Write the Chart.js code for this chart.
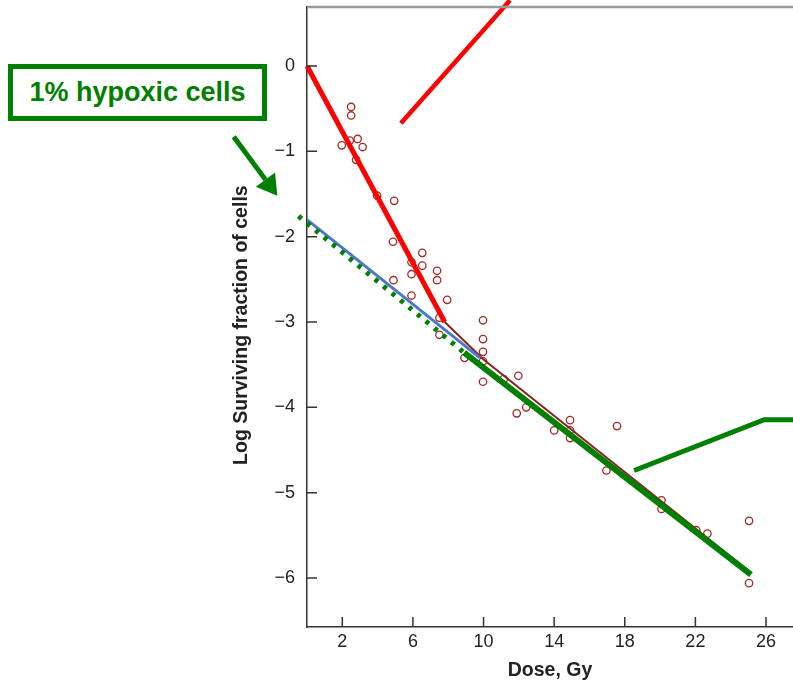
<!DOCTYPE html>
<html>
<head>
    <meta charset="utf-8" />
    <style>
        body { margin: 0; background: #fff; }
        #wrap { position: relative; width: 793px; height: 682px; }
        .etiqueta {
            position: absolute; left: 8px; top: 64px; width: 249px; height: 47px;
            border: 5px solid #008000; color: #008000; background: #fff;
            font: bold 27px "Liberation Sans", Arial, sans-serif;
            display: flex; align-items: center; justify-content: center;
        }
    </style>
</head>
<body>
    <div id="wrap">
        <canvas id="chart" width="793" height="682"></canvas>
        <div class="etiqueta">1% hypoxic cells</div>
    </div>

    <script src="https://cdn.jsdelivr.net/npm/chart.js"></script>
    <script type="text/javascript">
        // Puntos observados (dosis, log fraccion superviviente)
        var dosisObs = [2.5, 2.5, 2.87, 1.97, 3.15, 2.42, 2.78, 3.97, 4.94, 4.87, 6.53, 5.92, 6.53, 7.37, 5.92,
            4.9, 7.37, 5.92, 7.94, 7.5, 7.5, 9.97, 9.97, 9.97, 9.97, 8.92, 9.97, 11.14, 11.97, 11.88,
            12.42, 14.0, 14.9, 14.9, 14.9, 17.56, 16.96, 20.08, 20.08, 22.05, 22.68, 25.04, 25.04];
        var logObs = [-0.48, -0.58, -0.855, -0.93, -0.95, -0.875, -1.10, -1.52, -1.58, -2.06, -2.19, -2.30, -2.34, -2.40, -2.44,
            -2.51, -2.51, -2.69, -2.74, -2.95, -3.15, -2.98, -3.20, -3.35, -3.46, -3.42, -3.70, -3.67, -3.63, -4.07,
            -4.0, -4.27, -4.15, -4.27, -4.36, -4.22, -4.74, -5.09, -5.19, -5.44, -5.48, -5.33, -6.06];

        // Lineas de ajuste
        var rojaX = [0, 7.8];           var rojaY = [0, -3.0];
        var cafeX = [7.8, 10, 25.1];    var cafeY = [-3.0, -3.44, -5.93];
        var azulX = [0, 9.8];           var azulY = [-1.80, -3.42];
        var verdePuntosX = [-0.48, 8.9]; var verdePuntosY = [-1.76, -3.36];
        var verdeX = [8.9, 25.15];      var verdeY = [-3.36, -5.96];

        // Lineas de anotacion
        var notaRojaX = [5.32, 11.5];   var notaRojaY = [-0.67, 0.77];
        var notaVerdeX = [18.53, 25.9, 27.53]; var notaVerdeY = [-4.74, -4.145, -4.145];
        var flechaX = [-4.15, -1.68];   var flechaY = [-0.83, -1.52];

        // Marcas de los ejes
        var ticksX = [2, 6, 10, 14, 18, 22, 26];
        var ticksY = [0, -1, -2, -3, -4, -5, -6];

        var fuente = '"Liberation Sans", Arial, sans-serif';

        function puntos(xs, ys) {
            return xs.map((x, i) => ({ x: x, y: ys[i] }));
        }

        function linea(xs, ys, color, ancho, extra) {
            return Object.assign({
                type: 'scatter',
                data: puntos(xs, ys),
                showLine: true,
                borderColor: color,
                borderWidth: ancho,
                pointRadius: 0,
                fill: false
            }, extra || {});
        }

        // plugin para el borde superior, marcas hacia adentro y la flecha
        var extras = {
            id: 'extras',
            afterDraw(chart) {
                var ctx = chart.ctx;
                var a = chart.chartArea;
                var sx = chart.scales.x, sy = chart.scales.y;
                ctx.save();
                ctx.strokeStyle = '#999';
                ctx.lineWidth = 2.5;
                ctx.beginPath();
                ctx.moveTo(a.left, a.top);
                ctx.lineTo(a.right, a.top);
                ctx.stroke();

                ctx.strokeStyle = '#333';
                ctx.lineWidth = 1.5;
                ctx.beginPath();
                ticksX.forEach(v => {
                    var px = sx.getPixelForValue(v);
                    ctx.moveTo(px, a.bottom);
                    ctx.lineTo(px, a.bottom - 10);
                });
                ticksY.forEach(v => {
                    var py = sy.getPixelForValue(v);
                    ctx.moveTo(a.left, py);
                    ctx.lineTo(a.left + 10, py);
                });
                ctx.stroke();

                // flecha verde
                var x0 = sx.getPixelForValue(flechaX[0]), y0 = sy.getPixelForValue(flechaY[0]);
                var x1 = sx.getPixelForValue(flechaX[1]), y1 = sy.getPixelForValue(flechaY[1]);
                var ang = Math.atan2(y1 - y0, x1 - x0);
                var largo = 20, medio = 12;
                var bx = x1 - largo * Math.cos(ang), by = y1 - largo * Math.sin(ang);
                ctx.strokeStyle = '#008000';
                ctx.fillStyle = '#008000';
                ctx.lineWidth = 5;
                ctx.beginPath();
                ctx.moveTo(x0, y0);
                ctx.lineTo(bx, by);
                ctx.stroke();
                ctx.beginPath();
                ctx.moveTo(x1, y1);
                ctx.lineTo(bx + medio * Math.sin(ang), by - medio * Math.cos(ang));
                ctx.lineTo(bx - medio * Math.sin(ang), by + medio * Math.cos(ang));
                ctx.closePath();
                ctx.fill();
                ctx.restore();
            }
        };

        var ctx = document.getElementById('chart').getContext('2d');
        new Chart(ctx, {
            type: 'scatter',
            data: {
                datasets: [
                    linea(verdeX, verdeY, '#008000', 6),
                    linea(verdePuntosX, verdePuntosY, '#008000', 5, { borderDash: [4, 7], clip: false }),
                    linea(rojaX, rojaY, '#ff0000', 5, { clip: false }),
                    linea(azulX, azulY, '#4a78c8', 3),
                    linea(cafeX, cafeY, '#8b2222', 2),
                    linea(notaRojaX, notaRojaY, '#ff0000', 4.5, { clip: false }),
                    linea(notaVerdeX, notaVerdeY, '#008000', 5, { clip: false }),
                    {
                        type: 'scatter',
                        data: puntos(dosisObs, logObs),
                        pointStyle: 'circle',
                        pointRadius: 3.7,
                        borderColor: '#a02a25',
                        borderWidth: 1.3,
                        backgroundColor: 'rgba(0,0,0,0)'
                    }
                ]
            },
            options: {
                responsive: false,
                animation: false,
                layout: { autoPadding: false, padding: { top: 7, left: 0, right: 0, bottom: 0 } },
                plugins: { legend: { display: false }, tooltip: { enabled: false } },
                scales: {
                    x: {
                        type: 'linear',
                        min: 0,
                        max: 27.53,
                        afterBuildTicks: s => { s.ticks = ticksX.map(v => ({ value: v })); },
                        afterFit: s => { s.height = 55; s.paddingLeft = 0; s.paddingRight = 0; },
                        grid: { display: false, drawTicks: false },
                        border: { display: true, color: '#333', width: 1.5 },
                        ticks: { color: '#222', padding: 4, font: { family: fuente, size: 18 } },
                        title: {
                            display: true, text: 'Dose, Gy', color: '#222',
                            font: { family: fuente, size: 19.5, weight: 'bold' },
                            padding: { top: 0, bottom: 0 }
                        }
                    },
                    y: {
                        type: 'linear',
                        min: -6.574,
                        max: 0.691,
                        afterBuildTicks: s => { s.ticks = ticksY.map(v => ({ value: v })); },
                        afterFit: s => { s.width = 307; s.paddingTop = 0; s.paddingBottom = 0; },
                        grid: { display: false, drawTicks: false },
                        border: { display: true, color: '#333', width: 1.5 },
                        ticks: {
                            color: '#222', padding: 12, font: { family: fuente, size: 18 },
                            callback: v => v === 0 ? '0' : '\u2212' + Math.abs(v)
                        },
                        title: {
                            display: true, text: 'Log Surviving fraction of cells   ', color: '#222',
                            font: { family: fuente, size: 19.5, weight: 'bold' },
                            padding: { top: 230, bottom: 0 }
                        }
                    }
                }
            },
            plugins: [extras]
        });
    </script>
</body>
</html>
